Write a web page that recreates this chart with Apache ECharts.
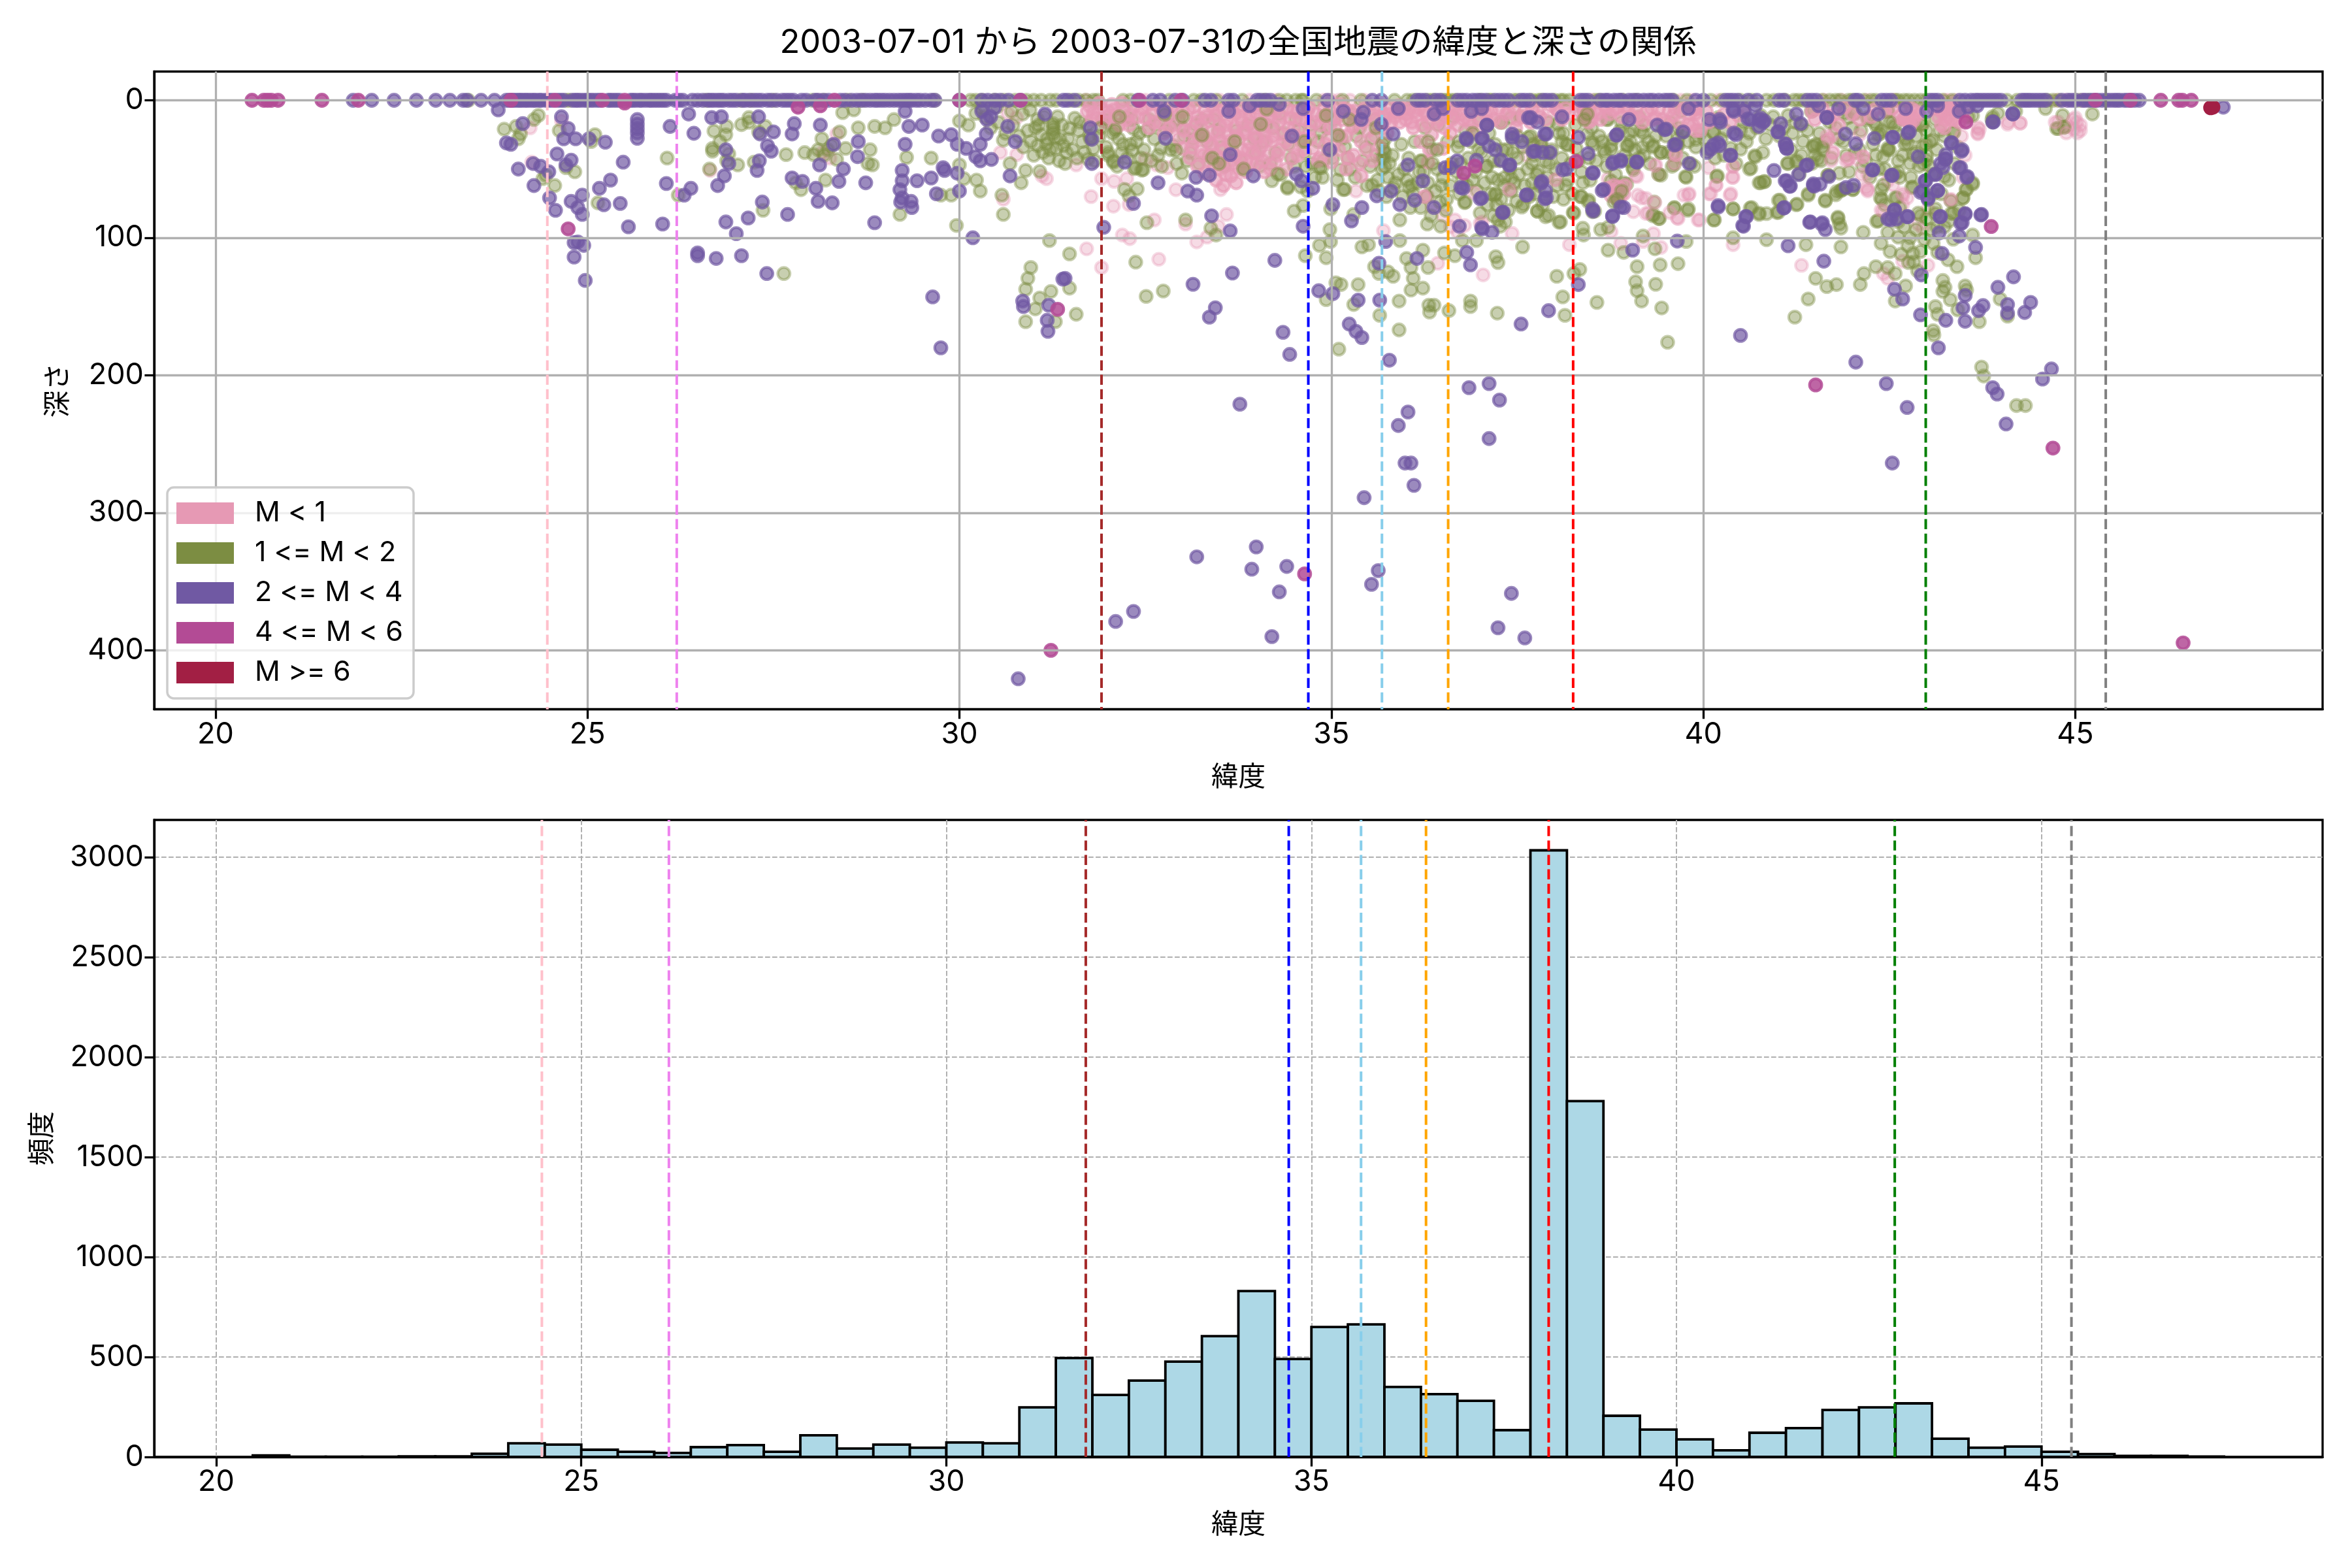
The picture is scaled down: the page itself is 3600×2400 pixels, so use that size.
<!DOCTYPE html>
<html><head><meta charset="utf-8">
<style>html,body{margin:0;padding:0;background:#fff}#c{width:3600px;height:2400px}</style>
<script src="https://cdn.jsdelivr.net/npm/echarts@6/dist/echarts.min.js"></script>
</head><body><div id="c"></div>
<script>
const titleText='2003-07-01 から 2003-07-31の全国地震の緯度と深さの関係';
const xName='緯度', depthName='深さ', freqName='頻度';
const classNames=['M < 1','1 <= M < 2','2 <= M < 4','4 <= M < 6','M >= 6'];
const classColors=['#e699b4','#7c8d42','#7059a3','#b34b95','#a21f44'];
const classOpacity=[0.35,0.42,0.7,0.85,1];
const pinkDenseOpacity=0.62;
const xTicks=[20,25,30,35,40,45];
const depthTicks=[0,100,200,300,400];
const freqTicks=[0,500,1000,1500,2000,2500,3000];
const vlineLat=[24.46,26.2,31.91,34.69,35.68,36.57,38.25,42.99,45.41];
const vlineColors=['#ffc0cb','#ee82ee','#a52a2a','#0000ff','#87ceeb','#ffa500','#ff0000','#008000','#808080'];

const histStart=[20.5,21,21.5,22,22.5,23,23.5,24,24.5,25,25.5,26,26.5,27,27.5,28,28.5,29,29.5,30,30.5,31,31.5,32,32.5,33,33.5,34,34.5,35,35.5,36,36.5,37,37.5,38,38.5,39,39.5,40,40.5,41,41.5,42,42.5,43,43.5,44,44.5,45,45.5,46,46.5,47];
const histCount=[8,1,1,1,3,3,16,68,62,36,26,20,49,59,26,108,42,62,46,72,68,248,495,310,382,477,604,830,490,650,663,350,314,281,134,3035,1780,206,137,88,33,121,144,235,248,268,91,46,52,26,14,5,5,2];

const purpleSurface=[21.85,22.1,22.4,22.7,22.96,23.15,23.33,23.38,23.57,23.75,23.91,23.95,23.99,24.02,24.06,24.09,24.12,24.16,24.19,24.23,24.27,24.3,24.35,24.38,24.44,24.48,24.52,24.6,24.64,24.68,24.8,24.84,24.87,24.91,24.96,25.0,25.04,25.08,25.13,25.17,25.28,25.31,25.35,25.39,25.43,25.58,25.61,25.65,25.7,25.73,25.78,25.83,25.86,25.9,25.94,25.98,26.02,26.06,26.18,26.23,26.28,26.41,26.48,26.55,26.62,26.66,26.7,26.75,26.79,26.83,26.9,26.95,27.0,27.08,27.12,27.18,27.24,27.29,27.34,27.42,27.47,27.54,27.62,27.67,27.72,27.77,27.88,27.94,28.06,28.1,28.17,28.24,28.4,28.46,28.55,28.62,28.68,28.74,28.8,28.86,28.9,28.95,29.0,29.06,29.12,29.18,29.23,29.28,29.32,29.36,29.42,29.47,29.54,29.62,29.67,30.0,30.3,30.38,30.48,30.55,30.66,30.82,31.4,31.45,31.55,32.4,32.6,32.7,32.9,33.0,33.3,33.38,33.62,33.68,34.0,34.05,34.12,34.18,34.95,35.55,35.67,36.15,36.2,36.26,36.4,36.46,36.7,36.76,36.82,36.9,36.96,37.02,37.08,37.2,37.26,37.32,37.38,37.55,37.6,37.66,37.85,37.9,37.96,38.35,38.4,38.45,38.62,38.68,38.72,38.8,38.86,38.9,39.0,39.06,39.12,39.2,39.27,39.32,39.4,39.48,39.53,39.58,39.9,40.0,40.3,40.35,40.4,40.46,40.6,40.72,41.02,41.08,41.4,41.46,41.52,42.04,42.08,42.4,42.46,42.52,43.05,43.1,43.15,43.45,43.52,43.6,43.66,43.7,43.75,43.8,43.85,43.9,43.95,44.0,44.28,44.32,44.36,44.4,44.45,44.5,44.55,44.6,44.82,44.9,44.95,45.0,45.1,45.14,45.2,45.25,45.3,45.36,45.42,45.47,45.52,45.56,45.6,45.66,45.7,45.75,45.8,45.86];
const oliveSurface=[23.4,24.72,24.76,26.6,27.06,27.2,27.5,28.02,28.18,28.5,28.7,29.66,30.15,30.22,30.3,30.47,30.9,31.0,31.22,31.6,31.7,31.8,31.86,33.15,33.25,34.1,34.3,34.4,34.52,34.6,34.8,35.4,36.1,36.3,36.55,36.6,37.15,37.45,37.7,37.78,38.12,38.2,38.55,38.92,39.78,40.5,40.85,40.95,41.22,41.28,41.35,41.7,41.78,41.95,42.26,42.62,42.7,42.84,42.92,43.0,43.35,44.08,44.7,44.78,45.05,30.6,30.75,31.1,31.3,31.5,32.2,32.3,32.82,33.45,33.8,34.62,35.15,35.85,36.02,36.36,36.5,36.66,37.0,37.12,37.5,37.82,38.0,38.08,38.6,39.1,39.6,40.1,40.25,40.65,41.1,41.6,41.84,42.0,42.16,42.32,42.58,42.76,43.22,44.22,44.62,45.18];
const pinkSurface=[28.1,28.32,31.7,32.5,33.5,33.9,34.25,34.9,35.0,35.1,35.25,35.45,38.3,38.5,39.7,39.85,40.2,41.62,41.86,42.2,42.56,43.25,43.3,43.4,44.75,44.88,45.1];
const magentaSurface=[20.49,20.65,20.7,20.75,20.84,21.43,21.92,23.97,24.56,25.2,25.5,28.32,30.0,30.82,32.42,32.98,45.27,45.74,46.15,46.39,46.44,46.56];

const pinkLow=[[24.23,20],[24.65,15],[24.25,45],[26.65,51],[28.16,38],[28.35,24.5],[28.26,42],[30.65,9.5],[30.77,12.6],[30.55,38],[30.77,39.5],[31.17,57],[31.11,55],[31.57,47],[31.91,57],[32.08,59],[32.25,57],[31.77,70],[32.07,77],[32.28,75.8],[30.59,72],[32.62,87],[33.04,90],[33.59,83],[33.48,91.6],[33.33,99.5],[33.19,103],[32.19,98],[32.29,100.6],[31.71,108],[31.91,121.6],[32.68,115.6],[32.91,65],[33.51,65],[32.8,49],[32.65,47],[32.5,42.6],[35.33,66],[35.7,94.8],[36.43,118.5],[37.04,127],[37.43,96.8],[37.4,64.8],[38.01,57.7],[37.03,88.5],[38.2,105],[36.66,87],[36.29,69.5],[36.35,77.4],[36.6,92],[36.7,96],[36.5,84],[38.72,57],[39.06,81],[39.26,82],[39.66,86],[39.95,87],[38.76,95.6],[39.33,97],[38.89,104],[39.19,102.7],[39.43,107],[40.4,105],[41.32,120],[40.07,49],[40.4,48],[40.4,56],[40.17,61.6],[40.1,68],[39.8,68.7],[40.37,68],[39.36,47],[39.09,55],[39.4,53.7],[39.17,71],[42.21,53.7],[42.21,66],[42.42,80.6],[42.68,69.5],[42.68,75.8],[43.02,79],[42.89,90],[42.95,93],[42.68,117],[43.02,120],[42.42,126],[42.48,129.5],[43.69,24.5],[43.69,19.7],[44.26,16.6],[44.09,17.4],[44.77,15.8],[44.9,19],[45.03,23.7],[45,12.6],[45.07,18],[44.98,21],[45.02,16],[43.32,72.7],[43.49,56],[42.48,58.5],[42.55,61.6],[37.62,40],[37.78,30]];
const oliveData=[[24.34,11],[24.28,14],[23.88,21],[24.04,19],[24.1,24.5],[24.07,28],[24.62,22],[25.1,25],[25.05,30],[24.71,49],[24.83,52],[24.44,54.5],[24.56,62],[24.4,57],[25.14,74.6],[26.07,42],[26.22,69],[26.7,22.4],[26.87,19],[26.86,25],[26.68,35],[26.68,37],[26.78,30],[26.9,39],[26.87,44],[27.02,47],[27.24,45],[26.64,50],[27.07,17.7],[27.17,12.6],[27.17,16],[27.39,19],[27.3,23],[28.43,9],[27.67,39.5],[27.92,38],[27.8,60],[27.87,65],[28.2,58],[27.36,80],[27.64,126],[28.39,23],[28.15,28],[28.23,36],[28.35,43],[28.04,39.5],[28.47,35],[28.1,36],[28.18,40],[28.28,33],[28.64,20],[28.86,19],[29,20],[29.12,14],[28.58,7],[28.8,36],[28.77,46],[28.83,47],[29.29,41.5],[29.62,42],[30,47],[30.06,57],[30.23,58],[30.28,66],[29.75,69],[29.89,69],[29.2,83],[29.96,91],[30.59,83],[30.57,69],[30.83,60],[30.68,46],[30.89,51],[31.08,51.7],[30.12,18],[30,15],[30.22,9.5],[30.59,29],[30.96,30],[31.05,33],[31.17,32],[31.26,19],[31.26,24],[31.26,21],[31.26,17],[31.28,27],[31.05,14],[31.48,20.5],[31.42,46],[31.73,42.7],[32.07,44],[32.47,50.5],[32.37,49],[32.34,20.5],[32.1,20.5],[32.77,8.7],[33.27,24.5],[32.71,34.8],[32.22,64.8],[32.39,64.5],[32.28,69.5],[32.52,89],[33.04,87],[33.38,93],[33.45,98],[32.99,53],[33.82,49],[34.2,58.5],[34.41,63],[34.59,63],[34.16,7],[34.93,11],[34.9,43.4],[35.12,50.5],[35.18,64.8],[34.87,49],[34.68,66],[34.5,80.6],[34.62,76.6],[34.99,79],[35.3,83],[34.98,94],[34.84,105.5],[34.99,102.7],[34.65,113],[34.93,114.5],[35.5,105],[35.41,106.6],[35.58,121],[35.76,124.8],[35.83,128],[35.64,126],[36.01,115],[36.07,121.6],[36.23,109],[36.3,121.6],[36.1,129.5],[36.07,138],[36.23,136.6],[36.52,111],[36.66,113],[37.21,113.7],[37.24,118],[37.57,106.6],[36.95,102],[36.76,102],[35.92,102],[35.92,87],[36.29,90],[36.47,91.6],[30.96,121.6],[30.92,129.5],[30.89,137.4],[30.89,161],[31.02,151.7],[31.08,143.8],[31.23,139],[31.29,161],[31.48,136.6],[31.57,155.6],[31.21,102],[31.48,111.7],[32.37,117.7],[32.51,142.6],[32.74,138.7],[35.06,132.7],[35.13,134],[35.36,134],[34.93,145],[35.3,148.5],[35.91,146],[35.65,156.4],[35.91,167],[35.1,181],[36.31,149],[36.38,149],[36.32,154],[36.58,153],[36.87,146],[36.87,150],[37.23,154.8],[38.03,128],[38.11,143],[38.14,156.4],[36.72,68],[36.8,74],[37.21,68],[37.49,73.5],[37.58,75.8],[37.77,80.6],[37.92,83.7],[38.08,88.5],[37.24,87],[37.34,88.5],[37.27,91.6],[30.3,6],[30.5,5],[30.7,8],[30.85,10],[30.95,7],[31.02,20],[31.1,25],[31.12,38],[31.2,42],[31.32,12],[31.35,28],[31.4,33],[31.44,38],[31.55,13],[31.6,22],[31.65,30],[31.72,18],[31.8,35],[31.88,26],[31.97,34],[32.02,14],[32.14,28],[32.18,38],[32.25,12],[32.3,32],[32.42,24],[32.48,36],[32.55,14],[32.62,28],[32.67,40],[32.82,18],[32.88,33],[32.95,14],[33.02,26],[33.1,38],[33.18,18],[33.22,46],[33.33,30],[33.42,14],[33.52,34],[33.72,22],[33.96,28],[34.04,48],[34.12,18],[34.25,38],[34.3,10],[34.36,24],[34.46,42],[34.52,14],[34.6,30],[34.66,48],[34.72,18],[34.78,56],[34.86,24],[34.96,36],[35.04,14],[35.14,28],[35.22,42],[35.28,10],[35.32,56],[35.38,20],[35.46,34],[35.52,48],[35.58,14],[35.62,58],[35.66,42],[35.68,50],[35.72,28],[35.76,56],[35.82,40],[35.86,60],[35.94,32],[35.98,50],[36.04,42],[36.08,62],[36.12,30],[36.18,52],[36.22,44],[36.26,20],[36.3,60],[36.36,36],[36.42,50],[36.44,18],[36.48,62],[36.56,30],[36.62,46],[36.64,12],[36.7,34],[36.76,58],[36.8,22],[36.84,42],[36.88,30],[36.94,52],[36.98,14],[37.02,38],[37.08,48],[37.12,24],[37.16,56],[37.2,32],[37.26,44],[37.3,16],[37.36,36],[37.4,50],[37.44,28],[37.5,42],[37.54,12],[37.58,34],[37.64,50],[37.68,26],[37.72,40],[37.76,54],[37.82,30],[37.88,44],[37.92,16],[37.96,36],[38.02,50],[38.06,24],[38.1,42],[38.16,32],[38.22,46],[38.28,18],[38.39,6],[38.42,12.6],[38.72,14],[39.06,22],[39.19,24],[39.33,33],[39.43,38],[38.99,33],[38.52,32],[38.29,35],[38.79,28],[39.73,23],[39.66,33],[39.83,46],[39.77,56],[39.43,54.5],[39.06,50.5],[38.36,52],[40.7,41],[40.64,49.4],[40.19,55],[40.77,60],[40.82,59],[41.14,45.8],[41.26,44],[41.29,53.7],[41.68,54.5],[41.41,68],[41.64,72.7],[41.78,68.7],[41.88,64.8],[42.01,64.8],[41.84,66],[41.03,72.7],[41.26,75.5],[41.01,81.4],[40.65,78],[40.75,82],[40.4,79],[40.15,87],[39.8,79],[39.61,78],[39.34,74],[39.33,83],[39.41,86],[38.36,70],[38.46,72.7],[38.54,80.6],[38.26,82],[38.38,93],[38.62,94],[38.72,92.4],[38.39,98],[39.19,98.7],[39.77,102.7],[40.4,100],[40.85,101.4],[41.38,105],[41.85,106.6],[38.72,109],[38.93,110.6],[39.35,108],[39.11,121],[39.42,119.7],[39.66,118.8],[38.34,123],[38.26,126],[39.09,132],[39.11,138.5],[39.36,133.8],[39.17,146],[38.57,147],[39.44,151],[41.41,144.5],[41.23,157.7],[39.52,176],[41.51,129.5],[41.66,135.5],[41.79,134],[42.11,134],[42.16,126],[42.32,121],[42.48,121.6],[42.58,126],[42.72,135],[42.58,146],[42.15,96],[41.81,85],[42.35,87.7],[41.85,93],[42.39,104],[42.51,110],[42.48,96],[42.62,88.5],[42.75,105.8],[42.82,111.4],[42.83,117.7],[42.62,99.5],[42.97,101],[43.09,104],[43.15,110.6],[43.29,116],[43.41,121],[43.66,114.5],[43.62,98],[43.36,101],[43.22,131],[43.25,136],[43.22,139],[43.52,135],[43.54,138],[43.32,145],[43.12,150],[43.15,155.6],[43.42,152.4],[43.71,161],[43.99,144.5],[44.09,157],[43.09,167.5],[43.1,170.6],[43.74,194],[44.21,222],[44.33,222],[43.77,200.5],[40.37,34.8],[40.13,23],[40.2,12.6],[40.77,11],[41.14,11],[41.48,7],[41.48,33],[41.61,36],[41.34,30],[41.95,12.6],[42.05,9.5],[42.21,12.6],[42.48,8],[42.35,25],[42.48,34.8],[42.75,31.6],[42.42,41],[42.62,44],[42.58,53.7],[42.82,39.5],[43.05,30],[42.95,17.4],[43.56,12],[43.89,15.8],[43.36,23.7],[42.79,56],[42.42,61.6],[42.38,71],[42.58,71],[42.82,63],[43.09,68],[43.49,71],[43.54,64.8],[43.62,60],[43.36,82],[43.12,79],[42.89,82],[38.83,63],[38.93,60],[38.86,68],[38.86,74],[39.6,39.5],[38.5,20],[38.6,26],[38.68,38],[38.9,16],[39.0,44],[39.14,12],[39.26,30],[39.5,26],[39.56,16],[39.7,8],[39.9,34],[40.02,28],[40.28,40],[40.5,22],[40.58,30],[40.9,18],[41.02,26],[41.2,24],[41.56,24],[41.7,16],[41.82,28],[41.92,40],[42.0,20],[42.1,36],[42.14,48],[42.28,32],[42.3,16],[42.6,24],[42.7,14],[42.86,26],[42.9,48],[43.0,40],[43.18,22],[43.08,54],[43.2,68],[45.23,10],[44.83,11],[44.77,20.5],[44.85,19.7],[43.89,12],[44.2,8],[44.6,6],
[30.34,12],[30.42,20],[30.52,16],[30.62,24],[30.72,18],[30.8,26],[30.86,34],[30.92,22],[31.0,40],[31.07,18],[31.14,12],[31.18,28],[31.22,36],[31.3,35],[31.34,44],[31.38,18],[31.46,28],[31.52,36],[31.58,42],[31.62,16],[31.68,38],[31.75,26],[31.82,44],[31.92,14],[32.0,38],[32.06,24],[32.12,48],[32.2,32],[32.26,42],[32.32,14],[32.38,30],[32.44,42],[32.52,22],[32.58,44],[32.64,18],[32.72,48],[32.78,22],[32.84,36],[32.92,46],[33.0,20],[33.06,44],[33.14,28],[33.26,14],[33.36,40],[33.48,22],[33.56,48],[33.66,36],[33.78,44],[33.88,18],[33.98,38],[34.08,30],[34.18,46],[34.22,20],[34.32,54],[34.42,32],[34.5,48],[34.56,22],[34.64,38],[34.74,46],[34.82,30],[34.88,56],[34.94,20],[35.02,42],[35.08,58],[35.18,34],[35.26,50],[35.34,26],[35.42,44],[35.48,62],[35.54,28],[35.6,40],[35.64,66],[35.7,36],[35.74,70],[35.78,46],[35.84,64],[35.9,54],[35.96,70],[36.02,58],[36.06,78],[36.1,68],[36.16,60],[36.2,78],[36.24,52],[36.28,70],[36.34,84],[36.4,66],[36.46,74],[36.5,56],[36.54,80],[36.6,62],[36.68,52],[36.74,46],[36.82,62],[36.9,58],[36.96,66],[37.0,82],[37.06,60],[37.1,76],[37.14,68],[37.18,84],[37.24,58],[37.28,72],[37.32,62],[37.38,80],[37.42,66],[37.46,60],[37.52,54],[37.6,62],[37.66,70],[37.7,60],[37.74,68],[37.8,62],[37.84,76],[37.9,56],[37.98,70],[38.04,62],[38.12,72],[38.18,58],[38.24,68],[38.32,44],[38.38,60],[38.44,24],[38.46,42],[38.48,58],[38.56,44],[38.64,30],[38.7,48],[38.76,36],[38.82,54],[38.88,22],[38.94,40],[39.02,30],[39.08,36],[39.14,42],[39.18,34],[39.22,18],[39.28,46],[39.36,26],[39.46,20],[39.52,38],[39.58,48],[39.66,20],[39.72,42],[39.8,30],[39.88,48],[39.96,24],[40.06,36],[40.16,42],[40.24,28],[40.3,22],[40.44,46],[40.54,16],[40.62,24],[40.72,20],[40.84,28],[40.94,12],[41.08,20],[41.18,36],[41.24,16],[41.32,40],[41.4,22],[41.46,46],[41.52,32],[41.58,44],[41.64,30],[41.72,42],[41.78,20],[41.88,30],[41.96,52],[42.04,38],[42.12,22],[42.18,44],[42.24,56],[42.32,40],[42.38,24],[42.44,50],[42.5,36],[42.54,16],[42.64,56],[42.68,40],[42.72,28],[42.78,46],[42.84,18],[42.94,34],[43.0,22],[43.04,48],[43.12,14],[43.14,36],[43.24,26],[43.3,58],[43.38,46],[43.42,34],[42.44,76],[42.54,84],[42.64,78],[42.7,92],[42.78,100],[42.86,94],[42.92,110],[43.0,86],[43.06,94],[43.14,92],[43.24,92],[43.3,88],[43.44,80],[42.66,112],[42.76,118],[42.88,124],
[37.27,16],[37.41,12.7],[37.65,27],[37.71,32],[38.12,24],[38.18,32.5],[37.44,38],[37.82,33],[38.04,17.4],[38.4,8],[38.7,14],[38.76,33],[38.97,33],[39.16,22],[39.32,34],[39.43,38],[39.64,33],[39.71,23],[39.9,28.5],[39.76,55.5],[39.4,54],[39.61,46.7],[39.05,49],[37.78,51.5],[37.93,46],[37.33,56.2],[37.42,57],[37.09,48],[38.15,62],[36.79,74.4],[36.55,72],[37.2,69],[37.22,76],[37.56,77.6],[37.3,82],[37.77,80.7],[37.88,84.7],[38.06,88.7],[38.25,81.6],[38.35,70],[38.45,73.7],[38.51,81],[39.32,84],[39.4,86],[39.61,78.4],[39.79,80],[40.14,87],[40.4,79],[40.18,55.5],[40.62,50],[40.69,40.4],[40.14,23.8],[40.5,35.6],[40.75,60],[40.63,78.4],[40.75,83],[38.76,58.6],[38.88,63.4],[38.97,61],[41.45,8],[42.02,9.5],[41.89,9.5],[42.21,14],[42.48,7],[41.32,18],[41.48,34],[41.54,42.8],[41.67,54.6],[41.13,46],[41.25,45],[41.83,53],[41.79,66.5],[41.86,65],[42.01,65],[41.41,69],[41.64,73.3],[41.01,72.8],[41.25,76],[40.99,81.6],[41.81,85.8],[42.33,19],[42.48,36],[42.57,19],[42.71,32],[42.93,18],[43.08,29],[42.99,32],[43,43.5],[43.62,11],[43.37,23],[43.24,55.4],[43.62,61],[43.53,65],[43.49,71],[43.33,73.3],[42.4,72],[42.6,71],[42.39,65],[42.62,52],[42.8,63.4],[42.33,88],[42.92,84],[43.12,82.4],[43.33,82.4],[44.85,19.5],[44.75,20.5],[43.88,14],[43.96,9.5],[40.82,59.3],[40.85,82.4],[41.83,90]];
const oliveTop=[[32.76,10.3],[33.26,25.4],[32.32,36.4],[33.82,50],[35.72,48.3],[35.69,31.7],[36.2,44],[36.04,63],[35.55,61.7],[35.09,25.5],[34.64,30],[34.13,6.4],[34.93,11],[34.05,17.4],[35.16,64.9],[34.28,53.6],[34.84,49],[34.41,64],[32.45,50.8],[32.35,49.7],[32.07,45],[32.09,22],[32.91,36.4],[33.49,46],[31.76,28],[31.9,20],[32.15,12],[32,40],[33,12],[33.4,42],[33.7,30],[35.24,14],[35.6,20],[35.7,42],[35.72,38],[36.3,30],[36.36,46],[36.42,36],[36.72,30],[36.9,24],[36.98,36],[37.18,44],[37.3,36],[37.5,26],[37.7,46],[37.92,38],[38.1,30],[38.4,14],[38.44,10],[38.5,30],[38.66,36],[39,24],[39.2,40],[39.66,28],[40.8,38],[41.6,34],[41.5,40],[42.4,22],[42.5,16],[42.36,50],[42.86,38],[42.96,46],[38.84,72],[38.9,66],[38.8,74]];
const pinkDense=[[31.75,4],[31.8,9],[31.85,13],[31.9,6],[31.95,16],[32,8],[32.05,3],[32.1,12],[32.15,18],[32.2,7],[32.25,14],[32.3,10],[32.35,4],[32.45,6],[32.5,13],[32.55,20],[32.6,9],[32.65,3],[32.7,16],[32.75,24],[32.8,11],[32.85,5],[32.9,18],[32.95,28],[33,8],[33,35],[33.05,14],[33.1,22],[33.1,42],[33.15,5],[33.15,30],[33.2,12],[33.2,48],[33.25,19],[33.25,37],[33.3,8],[33.3,27],[33.3,53],[33.35,15],[33.35,44],[33.4,4],[33.4,23],[33.4,33],[33.45,11],[33.45,40],[33.45,58],[33.5,18],[33.5,29],[33.5,50],[33.55,7],[33.55,36],[33.55,62],[33.6,14],[33.6,24],[33.6,45],[33.65,3],[33.65,32],[33.65,55],[33.7,10],[33.7,20],[33.7,40],[33.75,28],[33.75,50],[33.8,6],[33.8,16],[33.8,36],[33.85,24],[33.85,44],[33.85,52],[33.9,12],[33.9,31],[33.95,4],[33.95,20],[33.95,38],[34,10],[34,28],[34,46],[34.05,16],[34.05,34],[34.1,6],[34.1,24],[34.1,52],[34.15,12],[34.15,40],[34.2,20],[34.2,30],[34.25,8],[34.25,45],[34.3,16],[34.3,36],[34.35,25],[34.4,6],[34.4,50],[34.45,13],[34.45,32],[34.5,20],[34.55,8],[34.55,40],[34.6,28],[34.65,14],[34.7,5],[34.7,22],[34.75,35],[34.8,10],[34.85,18],[34.85,42],[34.9,6],[34.95,28],[35,12],[35,45],[35.05,20],[35.1,3],[35.1,36],[35.15,14],[35.2,26],[35.2,50],[35.25,8],[35.3,18],[35.3,40],[35.35,12],[35.4,30],[35.4,55],[35.45,6],[35.5,22],[35.55,44],[35.6,14],[35.65,4],[35.65,34],[35.7,10],[35.75,24],[35.8,6],[35.8,16],[35.85,12],[35.9,4],[35.95,9],[36,14],[36.05,6],[36.1,20],[36.15,11],[36.2,30],[36.25,8],[36.25,70],[36.3,16],[36.3,45],[36.35,25],[36.4,6],[36.45,14],[36.5,35],[36.55,10],[36.6,24],[36.65,6],[36.7,18],[36.75,10],[36.8,3],[36.85,14],[36.9,8],[36.95,22],[37,12],[37.05,5],[37.1,16],[37.15,8],[37.25,6],[37.35,10],[37.45,5],[37.5,14],[37.6,8],[37.7,6],[37.8,12],[37.95,4],[38.05,8],[38.15,6],[38.42,6],[38.39,12.6],[38.59,9.5],[38.79,7],[38.99,8],[39.13,12.6],[39.36,12.6],[39.6,11],[39.87,5],[39.9,9.5],[39.8,17.4],[39.63,39.5],[38.79,66],[38.86,63],[38.93,68],[38.76,69.5],[38.83,71],[38.8,62],[38.88,70],[38.72,64],[38.95,62],[41.68,28.4],[41.74,38],[41.95,42.6],[42.15,41],[42.82,12.6],[42.75,14],[43.22,8],[43.29,11],[43.39,6],[43.49,11],[43.26,14],[43.32,5],[41.46,8],[40.47,11],[40.07,16],[42.8,6],[42.9,10],[43.2,18],[38.3,4],[38.46,16],[38.7,6],[39.3,6],[39.5,16],[39.9,22],[39.94,14],[41.7,12],[41.9,5],[42.3,7],
[31.72,8],[31.78,14],[31.88,2],[31.98,12],[32.08,7],[32.18,2],[32.28,18],[32.4,12],[32.52,4],[32.62,16],[32.72,8],[32.82,20],[32.92,8],[33.02,22],[33.08,6],[33.12,34],[33.18,16],[33.22,26],[33.28,40],[33.32,12],[33.38,32],[33.42,48],[33.48,8],[33.48,24],[33.52,42],[33.58,18],[33.58,54],[33.62,30],[33.68,8],[33.68,46],[33.72,26],[33.72,60],[33.78,12],[33.78,42],[33.82,22],[33.88,36],[33.88,6],[33.92,46],[33.92,16],[33.98,26],[34.02,6],[34.02,38],[34.08,20],[34.08,44],[34.12,30],[34.18,10],[34.18,50],[34.22,26],[34.28,40],[34.32,12],[34.38,30],[34.42,20],[34.48,8],[34.48,42],[34.52,26],[34.58,14],[34.62,36],[34.68,8],[34.72,28],[34.78,16],[34.82,44],[34.88,12],[34.92,32],[34.98,8],[34.98,20],[35.02,34],[35.08,12],[35.12,26],[35.18,6],[35.22,42],[35.28,20],[35.32,8],[35.38,46],[35.42,16],[35.48,36],[35.52,10],[35.58,26],[35.62,6],[35.68,20],[35.72,14],[35.78,10],[35.88,8],[35.92,16],[35.98,6],[36.02,10],[36.08,16],[36.12,8],[36.18,6],[36.22,18],[36.28,10],[36.32,36],[36.38,8],[36.42,16],[36.48,8],[36.52,20],[36.58,6],[36.62,14],[36.68,10],[36.78,14],[36.88,18],[36.98,6],[37.08,10],[37.18,14],[37.28,16],[37.38,8],[37.48,20],[37.58,12],[37.68,16],[37.78,8],[37.88,14],[38.02,6],[38.1,14],[38.18,10],[38.34,8],[38.38,2],[38.42,10],[38.46,6],[38.5,14],[38.54,8],[38.62,14],[38.68,4],[38.74,10],[38.84,6],[38.9,12],[38.96,4],[39.04,12],[39.1,6],[39.18,16],[39.24,8],[39.32,14],[39.4,6],[39.46,14],[39.54,8],[39.62,6],[39.68,16],[39.74,6],[39.82,10],[39.86,18],[39.92,6],[39.96,22],[40.04,8],[40.12,14],[40.28,10],[40.36,16],[40.54,8],[41.5,14],[41.6,6],[41.76,10],[41.82,18],[42,10],[42.1,14],[42.26,12],[42.44,8],[42.54,6],[42.64,12],[42.72,6],[42.78,18],[42.86,8],[43.1,6],[43.16,12],[43.24,20],[43.28,6],[43.34,14],[43.36,6],[43.44,8],[43.44,16],[43.52,6],
[38.47,9.5],[38.41,9.5],[39.9,6],[42.68,14],[42.71,13],[43.21,9],[43.33,6.3],[43.39,14],[42.83,14.5]];
const pinkRing=[[39.35,47.5],[39.11,55.4],[39.61,46],[39.81,68],[39.74,69],[39.93,87],[40.08,68],[40.17,61.8],[40.4,48.3],[40.39,56],[40.36,69],[39.65,85.5],[39.55,81.6],[39.23,82.3],[39.35,74.4],[39.23,71.3],[39.12,69],[38.01,57.8],[37.39,65],[36.92,67.3],[37,89.5],[36.79,91],[44.1,15.8],[44.26,16.6],[43.69,23.7],[43.71,21],[44.97,14],[45.07,22],[44.88,23.7],[44.73,16],[41.72,44],[41.92,44],[42.07,43],[42.13,54],[42.21,65],[42.19,63.4],[42.68,68],[42.74,71],[42.39,80],[43.33,72],[43.47,26],[43.52,40],[41.66,26],[41.75,25],[42.1,25]];
const purpleData=[[23.8,7],[24.13,17],[23.91,31],[23.97,32],[24.65,12],[24.74,20.5],[24.68,28],[24.84,28],[25.02,28],[25.24,30.5],[24.59,39],[24.78,43.5],[24.71,47],[24.27,46],[24.07,50],[24.37,48],[24.48,52],[24.28,62],[24.49,71],[24.78,73.5],[24.93,69],[24.87,78],[24.93,83],[24.57,80],[25.16,64],[25.31,58],[25.22,76],[25.44,75],[25.48,45],[24.87,103],[24.82,103.5],[24.95,105.5],[24.82,114],[24.97,131],[25.55,92],[26.01,90],[25.67,14],[25.67,17.4],[25.67,20.5],[25.67,23.7],[25.67,27.6],[26.11,19],[26.06,60.5],[26.39,64],[26.3,69],[26.36,10],[26.43,24],[26.67,12.6],[26.8,12],[27.3,12],[27.5,23],[27.32,24.5],[27.42,33],[27.47,37],[27.78,17],[27.75,24.5],[28.13,18],[26.86,36],[26.9,46],[26.84,55],[26.75,62],[27.31,44],[27.28,51],[27.75,56.5],[27.89,59],[28.07,64],[28.1,73.5],[28.29,74.6],[28.38,59],[28.44,50],[28.12,47],[28.31,32],[27.35,74],[27.69,83],[27.16,85.6],[26.86,88.5],[27,97],[26.48,111],[26.48,113],[26.73,115],[27.07,113],[27.41,126],[28.64,30],[28.63,41],[29.32,19],[29.5,18],[29.27,8],[29.27,32],[29.72,26],[29.89,25],[29.97,32],[30.09,35],[30.22,41],[30.28,44],[30.43,43],[30.28,32],[30.36,24.5],[30.37,14],[30.47,5.5],[30.65,19],[30.75,30],[31.15,10],[31.76,20],[31.78,28.4],[31.78,46],[29.23,51],[28.74,60],[29.23,58.5],[29.2,65],[29.23,71],[29.21,74],[29.35,73.5],[29.36,78],[28.86,89],[29.43,58.5],[29.62,56.5],[29.8,51],[29.69,68],[30,66],[30.68,55],[29.97,53],[29.78,49],[30.18,100],[29.64,143],[29.75,180],[30.85,146],[30.86,150],[31.2,149],[31.18,160],[31.19,168],[31.39,130],[31.42,129.5],[32.22,45],[32.77,27.6],[32.34,75],[32.67,60],[33.07,66],[33.19,69],[33.18,56],[33.36,54.5],[33.95,55],[33.64,39.5],[34.47,26],[33.39,84],[33.64,95],[31.94,92.4],[34.62,91.6],[34.53,53.7],[34.6,58.5],[34.75,64],[35.02,75.8],[35.41,78],[35.27,87.7],[34.98,36],[35.43,8.7],[35.67,17.4],[35.83,24.5],[36.03,47],[36.23,58.5],[35.8,66],[35.61,69.5],[35.92,75.8],[36.12,72.7],[36.38,78],[35.73,102.7],[35.64,118.5],[36.15,115],[36.82,110.6],[36.87,119.7],[34.24,116.4],[33.67,125.6],[33.14,133.8],[33.44,150.9],[33.36,157.7],[34.83,138.5],[35.02,140.6],[35.36,145.3],[35.65,145.3],[35.24,162.7],[35.33,168],[35.41,172.5],[34.35,168.7],[34.44,184.8],[35.78,189],[37.92,153],[37.55,162.7],[37.09,18],[36.81,27.6],[37.03,27.6],[37.43,24.5],[37.68,12.6],[37.89,24.5],[37.74,37],[37.4,47],[38.11,50.5],[36.53,49],[36.69,44],[36.77,64],[37.02,71],[37.63,68.7],[37.83,59],[37.89,71],[37.31,81.4],[37.03,93.5],[37.16,96],[36.72,91.6],[38.32,27],[38.84,25],[38.52,53],[38.79,45],[38.89,43.4],[39.11,45],[39.5,21],[39.63,32],[39.73,23],[40.1,35.5],[40.2,31],[40.37,40],[40.4,7],[40.23,16],[40.44,25],[40.64,14],[40.77,13],[40.8,16],[41.01,23],[41.04,17],[41.11,32],[41.31,17],[41.66,12.6],[41.12,35],[41.4,47],[40.95,51],[41.12,58.5],[41.17,62.4],[41.48,60.8],[41.49,62.4],[41.91,24.5],[42.05,31.6],[42.28,50.5],[42.54,54.5],[42.55,26.9],[42.75,23.7],[42.89,41],[43.26,42.6],[43.26,39.5],[43.19,46],[43.12,53.7],[43.46,49],[43.54,56],[42.99,58.5],[43.02,71],[43.15,65.6],[42.95,66],[43.34,30.8],[43.48,36],[43.89,15.8],[44.16,10],[38.66,64.8],[38.93,78],[38.52,80.6],[38.78,84.5],[40.2,76.6],[41.09,78],[40.57,84.5],[40.54,91.6],[41.44,88.5],[41.6,89],[41.64,94],[42.57,79.8],[42.52,86.9],[42.75,84.5],[43.19,84.5],[43.52,83],[43.74,83],[43.48,89],[43.17,96.4],[43.44,98.7],[43.66,107],[43.21,111.4],[39.65,102.4],[39.05,109],[41.14,105.8],[41.62,117],[38.32,134],[42.93,127],[42.57,137.4],[42.68,144.5],[43.52,141.9],[43.96,136],[44.17,128.4],[44.4,147],[43.76,149.3],[43.7,153],[43.49,151],[44.09,148.5],[44.09,154.8],[44.32,154.3],[43.52,160.7],[43.26,160],[42.92,156],[40.5,171],[43.16,180],[42.05,190.4],[44.68,195.4],[44.56,202.7],[33.19,332],[33.99,324.8],[33.93,341],[34.4,339],[34.3,357.5],[34.2,390],[32.1,379],[32.34,371.7],[30.79,420.7],[33.77,221],[35.9,236.5],[36.03,226.7],[35.99,263.8],[36.07,263.8],[36.11,280],[35.44,289],[35.63,342],[35.54,352],[36.85,209],[37.12,206],[37.26,218],[37.12,246],[37.42,358.6],[37.24,383.6],[37.6,391],[42.46,206],[42.74,223.4],[42.54,263.8],[43.89,209],[44.07,235.4],[43.95,213.6],[46.99,5],
[30.3,8],[30.42,12],[32.75,8],[33.62,8],[33.9,4],[34.3,3],[34.62,6],[35.16,8],[35.4,14],[35.9,6],[36.38,10],[36.5,6],[36.88,8],[37.02,6],[37.2,36],[37.56,30],[37.94,38],[38.1,12],[39,14],[39.38,18],[39.8,6],[40.08,14],[40.55,8],[40.7,4],[41.25,10],[41.55,4],[41.82,6],[42.15,6],[42.35,10],[42.72,6],[43,8],[43.15,4],[43.44,8],[43.56,5],[43.68,4],
[37.09,18.2],[36.82,28.5],[37.02,27.7],[37.12,33.3],[37.43,26.9],[37.65,12.7],[37.77,15.8],[37.87,24.5],[37.71,37.2],[37.84,38],[36.95,43.6],[37.28,43.6],[37.39,47.2],[36.6,49],[38.16,50],[37.82,60],[37.88,65.7],[37.87,71.6],[37.62,69],[37,71.6],[36.74,63.4],[37.3,81.6],[37.02,92.6],[38.45,38.8],[38.83,25.4],[38.89,44.4],[38.78,46],[39.1,44.8],[38.51,52.7],[39.48,21.4],[39.61,32.5],[39.81,46],[38.89,77.6],[38.64,65.7],[38.78,84],[40.22,14],[40.05,38],[40.14,32.5],[40.22,33],[40.41,8],[40.41,23.8],[40.36,40],[40.6,13.5],[40.75,14.3],[40.75,19],[40.2,77.6],[40.58,84.7],[40.53,91],[38.51,79],[40.82,15],[41,23],[41.1,31.7],[41.12,34.8],[41.66,12.4],[41.38,47.5],[41.1,58.6],[41.16,62.5],[41.28,54],[41.48,61.8],[41.57,61],[41.69,55.4],[42.02,61.8],[41.92,63.4],[42.27,50.7],[42.53,54.6],[42.54,27],[42.3,27.7],[42.77,23],[41.08,78.4],[41.43,88.7],[41.59,90],[43.33,31],[43.47,37],[43.25,42.8],[43.22,49],[43.44,49],[43.12,54],[42.98,58.6],[43.55,55.4],[42.92,67],[43.02,72],[43.15,65.7],[43.52,82.4],[43.73,83.4],[42.57,80],[42.48,86.3],[42.6,86.3],[42.74,84.7],[43.18,84.7],[43.9,15.8],[44.16,9.8],[43.46,89.5]];
const magentaData=[[24.74,93.5],[27.83,5],[28.13,4],[25.5,2],[31.23,400],[31.32,152],[34.64,344.4],[44.7,252.9],[46.45,394.6],[41.51,207],[38.29,44.4],[36.93,47.8],[36.78,53],[43.53,15.8],[43.87,91.8]];
const crimsonData=[[46.82,5.4],[46.85,5]];

const surface=(lats)=>lats.map(v=>[v,0]);
const scatter=(cls,data,z,op)=>({type:'scatter',name:classNames[cls],data,xAxisIndex:0,yAxisIndex:0,z,silent:true,large:false,progressive:0,animation:false,
  symbol:'circle',symbolSize:18.6,itemStyle:{color:classColors[cls],borderColor:classColors[cls],borderWidth:4.2,opacity:op===undefined?classOpacity[cls]:op}});
const histData=histStart.map((s,i)=>[s,s+0.5,histCount[i]]);
const X0=[19.175,48.325], D=[-20.9,442.9], X1=[19.15,48.85], F=[0,3187];
const fontFamily='Inter,"Noto Sans CJK JP","Noto Sans",sans-serif';
const vlines=(xi,yi,range)=>vlineLat.map((v,i)=>({type:'line',xAxisIndex:xi,yAxisIndex:yi,data:[[v,range[0]],[v,range[1]]],showSymbol:false,silent:true,z:6,animation:false,
  lineStyle:{color:vlineColors[i],width:4,type:[15.4,6.7]}}));
const axisBase=(ticks)=>({axisLine:{show:true,onZero:false,lineStyle:{color:'#000',width:3.3}},
  axisTick:{show:true,length:14.6,customValues:ticks,lineStyle:{color:'#000',width:3.3}},
  axisLabel:{color:'#000',fontSize:45,fontFamily,margin:16,customValues:ticks,hideOverlap:false,showMinLabel:true,showMaxLabel:true,formatter:(v)=>String(v)}});
const nameStyle={color:'#000',fontSize:41.6,fontFamily};
const option={animation:false,backgroundColor:'#fff',
 title:{text:titleText,left:1890,top:36,textAlign:'center',textStyle:{color:'#000',fontSize:50.5,fontWeight:'normal',fontFamily}},
 legend:{show:true,orient:'vertical',left:256,top:746,padding:[18,16,18,14],itemWidth:88,itemHeight:33,itemGap:18,icon:'rect',z:20,backgroundColor:'rgba(255,255,255,0.8)',borderColor:'#cccccc',borderWidth:3.5,borderRadius:10,selectedMode:false,
  textStyle:{color:'#000',fontSize:43,fontFamily,padding:[0,0,0,27]},
  data:classNames.map((n,i)=>({name:n,itemStyle:{color:classColors[i],opacity:1,borderWidth:0}}))},
 grid:[{left:236,top:109.5,width:3319,height:976.2,show:true,borderColor:'#000',borderWidth:3.3,backgroundColor:'#fff',containLabel:false},
       {left:236,top:1255,width:3319,height:975,show:true,borderColor:'#000',borderWidth:3.3,backgroundColor:'#fff',containLabel:false}],
 xAxis:[Object.assign(axisBase(xTicks),{type:'value',gridIndex:0,min:X0[0],max:X0[1],position:'bottom',z:4,name:xName,nameLocation:'middle',nameGap:84,nameTextStyle:nameStyle,
          splitLine:{show:true,lineStyle:{color:'#b0b0b0',width:3.3}}}),
        Object.assign(axisBase(xTicks),{type:'value',gridIndex:1,min:X1[0],max:X1[1],position:'bottom',z:1,name:xName,nameLocation:'middle',nameGap:84,nameTextStyle:nameStyle,
          splitLine:{show:true,lineStyle:{color:'#b0b0b0',width:2,type:[7.7,3.3]}}})],
 yAxis:[Object.assign(axisBase(depthTicks),{type:'value',gridIndex:0,inverse:true,min:D[0],max:D[1],position:'left',z:4,name:depthName,nameLocation:'middle',nameGap:126,nameRotate:90,nameTextStyle:nameStyle,
          splitLine:{show:true,lineStyle:{color:'#b0b0b0',width:3.3}}}),
        Object.assign(axisBase(freqTicks),{type:'value',gridIndex:1,min:F[0],max:F[1],position:'left',z:1,name:freqName,nameLocation:'middle',nameGap:150,nameRotate:90,nameTextStyle:nameStyle,
          splitLine:{show:true,lineStyle:{color:'#b0b0b0',width:2,type:[7.7,3.3]}}})],
 series:[scatter(0,surface(pinkSurface).concat(pinkLow),2),scatter(1,surface(oliveSurface).concat(oliveData),2.1),scatter(0,pinkDense,2.2,pinkDenseOpacity),scatter(1,oliveTop,2.25),scatter(0,pinkRing,2.27),
   scatter(2,surface(purpleSurface).concat(purpleData),2.3),scatter(3,surface(magentaSurface).concat(magentaData),2.4),scatter(4,crimsonData,2.5),
   ...vlines(0,0,D),
   {type:'custom',name:'hist',xAxisIndex:1,yAxisIndex:1,data:histData,encode:{x:[0,1],y:2},silent:true,z:3,animation:false,clip:true,
    renderItem:(params,api)=>{const a=api.coord([api.value(0),api.value(2)]),b=api.coord([api.value(1),0]);
      return {type:'rect',shape:{x:a[0],y:a[1],width:b[0]-a[0],height:b[1]-a[1]},style:{fill:'#add8e6',stroke:'#000',lineWidth:3.8}};}},
   ...vlines(1,1,F)]};
const chart=echarts.init(document.getElementById('c'),null,{renderer:'canvas',width:3600,height:2400});
chart.setOption(option);
</script></body></html>
